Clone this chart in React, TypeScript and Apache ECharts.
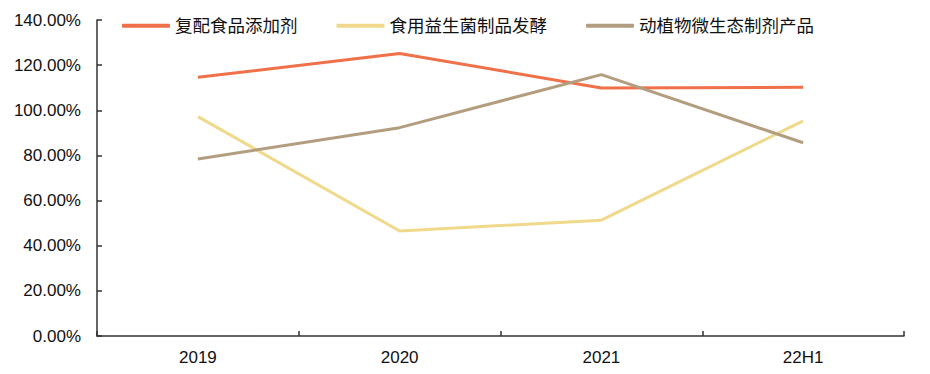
import React, { useEffect, useRef } from "react";
import * as echarts from "echarts";

const categories = ["2019", "2020", "2021", "22H1"];
const seriesNames = ["复配食品添加剂", "食用益生菌制品发酵", "动植物微生态制剂产品"];
const compoundAdditives = [114.6, 125.2, 109.9, 110.2];
const probioticFermentation = [97.2, 46.5, 51.3, 95.3];
const microecologicalProducts = [78.4, 92.3, 115.8, 85.6];
const seriesColors = ["#F0704A", "#F0D98A", "#B39D7F"];

export default function App() {
  const ref = useRef<HTMLDivElement>(null);
  useEffect(() => {
    if (!ref.current) return;
    const chart = echarts.init(ref.current, undefined, { renderer: "svg" });
    const font = "'Liberation Sans', Arial, 'Noto Sans CJK SC', sans-serif";
    const data = [compoundAdditives, probioticFermentation, microecologicalProducts];
    chart.setOption({
      animation: false,
      backgroundColor: "#ffffff",
      grid: { left: 97, right: 26, top: 20, bottom: 38, containLabel: false },
      legend: {
        left: 117,
        top: 12,
        itemWidth: 48,
        itemHeight: 4,
        itemGap: 39,
        icon: "roundRect",
        textStyle: { fontSize: 17.5, color: "#111", fontFamily: font },
        data: seriesNames,
      },
      xAxis: {
        type: "category",
        data: categories,
        boundaryGap: true,
        axisLine: { lineStyle: { color: "#333", width: 1.5 } },
        axisTick: { show: true, inside: true, length: 5, lineStyle: { color: "#333", width: 1.5 } },
        axisLabel: { fontSize: 17, color: "#111", fontFamily: font, margin: 13 },
        splitLine: { show: false },
      },
      yAxis: {
        type: "value",
        min: 0,
        max: 140,
        interval: 20,
        axisLine: { show: true, lineStyle: { color: "#333", width: 1.5 } },
        axisTick: { show: true, inside: true, length: 5, lineStyle: { color: "#333", width: 1.5 } },
        axisLabel: {
          fontSize: 17,
          color: "#111",
          fontFamily: font,
          margin: 16,
          formatter: (v: number) => v.toFixed(2) + "%",
        },
        splitLine: { show: false },
      },
      series: seriesNames.map((name, i) => ({
        name,
        type: "line",
        data: data[i],
        symbol: "none",
        color: seriesColors[i],
        lineStyle: { width: 3, color: seriesColors[i] },
      })),
    });
    return () => chart.dispose();
  }, []);
  return (
    <div
      ref={ref}
      style={{ position: "fixed", left: 0, top: 0, width: 930, height: 374 }}
    />
  );
}
